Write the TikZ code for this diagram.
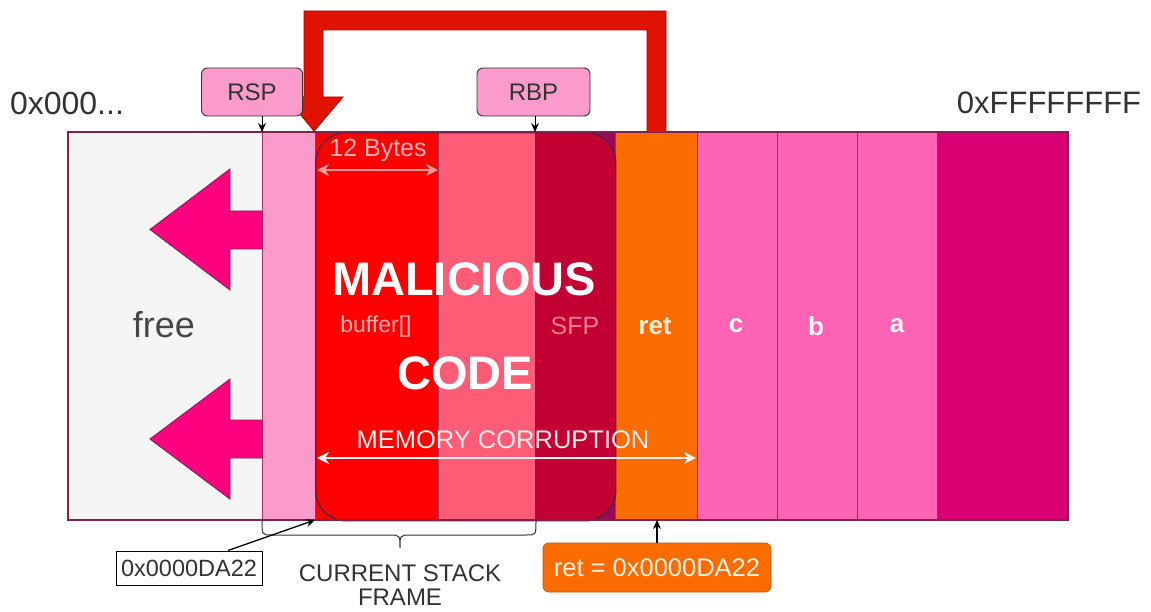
\documentclass[tikz,border=0pt]{standalone}
\usepackage{fontspec}
\setmainfont{Liberation Sans}
\usetikzlibrary{arrows.meta}
\definecolor{freec}{HTML}{F5F5F5}
\definecolor{pinka}{HTML}{FA9BCB}
\definecolor{redc}{HTML}{FF0000}
\definecolor{pinkb}{HTML}{FF5C77}
\definecolor{sfpc}{HTML}{C20032}
\definecolor{purp}{HTML}{980A55}
\definecolor{orangec}{HTML}{FA6B00}
\definecolor{pinkc}{HTML}{FF64B4}
\definecolor{darkm}{HTML}{D80073}
\definecolor{frame}{HTML}{7E2250}
\definecolor{sep}{HTML}{A0305E}
\definecolor{magarrow}{HTML}{FF0080}
\definecolor{bigred}{HTML}{E21200}
\definecolor{txt}{HTML}{333333}
\begin{document}
\begin{tikzpicture}[x=1pt,y=-1pt,
  col/.style={draw=sep, line width=0.8pt, minimum height=388pt, anchor=north west, inner sep=0pt, outer sep=0pt},
  regbox/.style={draw=txt, fill=pinka, rounded corners=6pt, line width=0.9pt, minimum height=48pt, inner sep=0pt, text=txt, font=\fontsize{24}{24}\selectfont},
  coltext/.style={font=\bfseries\fontsize{26}{26}\selectfont, text=white!88!pink},
  bigtext/.style={font=\bfseries\fontsize{47}{47}\selectfont, text=white},
  ptr/.style={-{Stealth[length=9pt,width=8pt]}, line width=1.3pt, draw=black},
  dbl/.style={{Stealth[length=12pt,width=12pt]}-{Stealth[length=12pt,width=12pt]}, line width=2.5pt},
  magarr/.style={fill=magarrow, draw=frame, line width=0.9pt}
]
\useasboundingbox (0,0) rectangle (1151,612);

% columns
\node[col, fill=freec, minimum width=194pt] (free) at (68,132) {};
\node[col, fill=pinka, minimum width=53pt] (spc) at (262,132) {};
\node[col, fill=redc, minimum width=123pt] (buf) at (315,132) {};
\node[col, fill=pinkb, minimum width=97pt] (mid) at (438,132) {};
\node[col, fill=purp, minimum width=80pt] (sfp) at (535,132) {};
\node[col, fill=orangec, minimum width=82pt] (ret) at (615,132) {};
\node[col, fill=pinkc, minimum width=80pt] (cc) at (697,132) {};
\node[col, fill=pinkc, minimum width=80pt] (bb) at (777,132) {};
\node[col, fill=pinkc, minimum width=80pt] (aa) at (857,132) {};
\node[col, fill=darkm, minimum width=131pt] (top) at (937,132) {};

% rounded malicious region
\begin{scope}
  \clip[rounded corners=30pt] (315,132) rectangle (615,520);
  \fill[sfpc] (535,132) rectangle (615,520);
\end{scope}
\node[draw=frame!80!black, line width=1.4pt, rounded corners=30pt, minimum width=300pt, minimum height=388pt, inner sep=0pt, anchor=north west] (mal) at (315,132) {};

% outer frame
\draw[draw=frame, line width=2pt] (free.north west) rectangle (top.south east);

% column texts
\node[font=\fontsize{36}{36}\selectfont, text=txt!90!white] at (164,325) {free};
\node[font=\fontsize{23}{23}\selectfont, text=pink!60!red!60!white] at (376,327) {buffer[]};
\node[font=\fontsize{25}{25}\selectfont, text=pinkb!80!white] at (575,326) {SFP};
\node[coltext, text=orange!15!white] at (655,326) {ret};
\node[coltext] at (736,326) {c};
\node[coltext] at (816,326) {b};
\node[coltext] at (897,326) {a};

\node[bigtext] (maltext) at (464,279) {MALICIOUS};
\node[bigtext] (codetext) at (465,373) {CODE};

% 12 bytes
\node[font=\fontsize{25}{25}\selectfont, text=red!30!white] (twelve) at (378,150) {12 Bytes};
\coordinate (tbL) at (317,170);
\coordinate (tbR) at (438,170);
\draw[dbl, draw=red!40!white, line width=2.5pt] (tbL) -- (tbR);

% memory corruption
\node[font=\fontsize{25.5}{25.5}\selectfont, text=red!8!white] (memtext) at (503,440) {MEMORY CORRUPTION};
\coordinate (mcL) at (317,458);
\coordinate (mcR) at (696,458);
\draw[dbl, draw=white!95!red] (mcL) -- (mcR);

% magenta arrows
\draw[magarr] (262,211) -- (230,211) -- (230,169) -- (150,229.5) -- (230,290) -- (230,249) -- (262,249);
\draw[magarr] (262,420) -- (230,420) -- (230,379) -- (150,439) -- (230,499) -- (230,458) -- (262,458);

% big red arrow
\draw[fill=bigred, draw=red!70!black, line width=0.9pt, line join=miter]
  (647,132) -- (647,30) -- (323,30) -- (323,97) -- (343,97) -- (314,131) -- (286,97) -- (304,97)
  -- (304,11) -- (666,11) -- (666,132);

% registers
\node[regbox, minimum width=101pt] (rsp) at (252,92) {RSP};
\node[regbox, minimum width=113pt] (rbp) at (533.5,92) {RBP};
\draw[ptr, line width=0.9pt] (rsp.south -| spc.north west) -- (spc.north west);
\draw[ptr, line width=0.9pt] (rbp.south -| sfp.north west) -- (sfp.north west);

% address labels
\node[font=\fontsize{32}{32}\selectfont, text=txt] (lowaddr) at (67,103) {0x000...};
\node[font=\fontsize{31}{31}\selectfont, text=txt] (highaddr) at (1049,103) {0xFFFFFFFF};

% brace
\draw[draw=txt, line width=1pt]
  (262,521) .. controls (262,535) .. (272,535) -- (389,535) .. controls (400,535) .. (400,548)
  .. controls (400,535) .. (411,535) -- (526,535) .. controls (536,535) .. (536,521);
\node[font=\fontsize{24}{24}\selectfont, text=txt, align=center] (frametext) at (400,585) {CURRENT STACK\\FRAME};

% address box
\node[draw=black, fill=white, line width=1pt, minimum width=146pt, minimum height=34pt, inner sep=0pt, font=\fontsize{23.5}{23.5}\selectfont, text=txt] (addr) at (189,568) {0x0000DA22};
\draw[ptr] ([xshift=39pt]addr.north) -- (buf.south west);

% ret box
\node[draw=orangec!80!black, fill=orangec, rounded corners=6pt, line width=0.8pt, minimum width=228pt, minimum height=49pt, inner sep=0pt, font=\fontsize{25.5}{25.5}\selectfont, text=orange!10!white] (retbox) at (657,567.5) {ret = 0x0000DA22};
\draw[ptr] (retbox.north) -- (retbox.north |- ret.south);
\end{tikzpicture}
\end{document}
